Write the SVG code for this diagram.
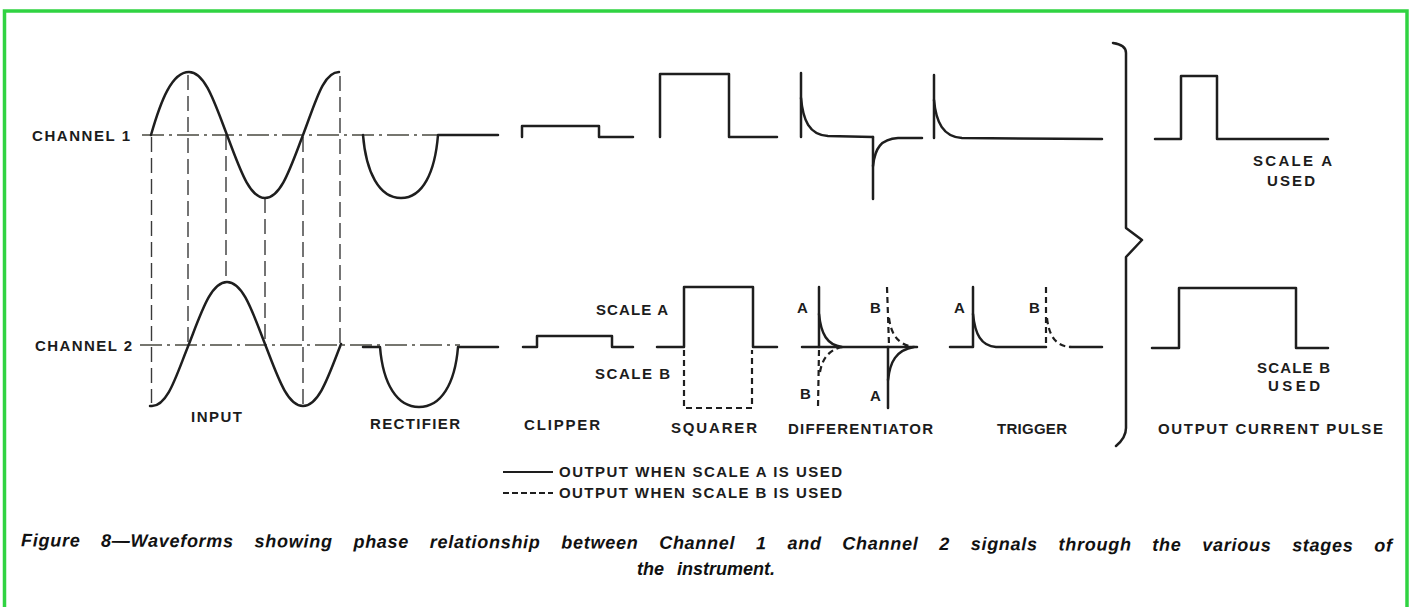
<svg xmlns="http://www.w3.org/2000/svg" width="1415" height="607" viewBox="0 0 1415 607">
  <style>
    .w { fill: none; stroke: #1e1e1e; stroke-width: 2.5; stroke-linejoin: round; stroke-linecap: round; }
    .wd { fill: none; stroke: #1e1e1e; stroke-width: 2.2; stroke-dasharray: 6 4; }
    .ax { fill: none; stroke: #4a4a40; stroke-width: 1.3; stroke-dasharray: 22 5 3 5; }
    .vd { fill: none; stroke: #3a3a3a; stroke-width: 1.4; stroke-dasharray: 15 6; }
    .lb { font-family: "Liberation Sans", Arial, sans-serif; font-weight: bold; font-size: 15px; fill: #1c1c1c; }
    .cap { font-family: "Liberation Sans", Arial, sans-serif; font-weight: bold; font-style: italic; font-size: 18px; fill: #111111; }
  </style>
  <rect x="0" y="0" width="1415" height="607" fill="#ffffff"/>
  <rect x="4.5" y="11" width="1402.5" height="630" fill="none" stroke="#30d342" stroke-width="3.5"/>

  <g id="input">
    <text class="lb" x="32" y="140.5" textLength="98" lengthAdjust="spacing">CHANNEL 1</text>
    <text class="lb" x="35" y="350.5" textLength="97" lengthAdjust="spacing">CHANNEL 2</text>
    <path class="ax" d="M142,135 H440"/>
    <path class="ax" d="M140,345 H460"/>
    <path class="vd" d="M151.5,137 V403"/>
    <path class="vd" d="M188,75 V345"/>
    <path class="vd" d="M226,135 V281"/>
    <path class="vd" d="M265,198 V345"/>
    <path class="vd" d="M303,137 V405"/>
    <path class="vd" d="M340,76 V345"/>
    <path class="w" d="M151,135 C161,100 172,72 189,72 C205,72 214.6,102.7 227,135 C239.4,167.3 249,198 265,198 C281,198 290.6,167.3 303,135 C315.4,102.7 323,72 339,72"/>
    <path class="w" d="M150,406 H152 C168,406 176.6,374.2 189,344 C201.4,312.2 211,282 227,282 C243,282 252.6,312.2 265,344 C277.4,375.8 287,406 303,406 C319,406 328.6,375.8 341,344"/>
    <text class="lb" x="191" y="422" textLength="51" lengthAdjust="spacing">INPUT</text>
  </g>

  <g id="rectifier">
    <path class="w" d="M363,135 C366,172 379,198 401,198 C423,198 435,172 438,135 H498"/>
    <path class="w" d="M363,347 H380 C383,384 397,407 419,407 C441,407 455,384 458,347 H498"/>
    <text class="lb" x="370" y="428.5" textLength="90" lengthAdjust="spacing">RECTIFIER</text>
  </g>

  <g id="clipper">
    <path class="w" d="M522,137 V126 H599 V137 H633"/>
    <path class="w" d="M523,347 H537 V336 H612 V347 H633"/>
    <text class="lb" x="524" y="429.5" textLength="76" lengthAdjust="spacing">CLIPPER</text>
  </g>

  <g id="squarer">
    <path class="w" d="M660,137 V74 H729 V137 H777"/>
    <path class="w" d="M657,347 H684 V287 H753 V347 H777"/>
    <path class="wd" d="M684,350 V408 H752 V350"/>
    <text class="lb" x="596" y="314.5" textLength="72" lengthAdjust="spacing">SCALE A</text>
    <text class="lb" x="595" y="378.5" textLength="75" lengthAdjust="spacing">SCALE B</text>
    <text class="lb" x="671" y="432.5" textLength="86" lengthAdjust="spacing">SQUARER</text>
  </g>

  <g id="differentiator">
    <path class="w" d="M801,73 V137"/>
    <path class="w" d="M801,98 C803,120 809,135 828,136 L873,137"/>
    <path class="w" d="M873,137 V199"/>
    <path class="w" d="M873,166 C875,148 881,139 898,138 L922,138"/>
    <path class="w" d="M802,347 H917"/>
    <path class="w" d="M819,287 V347"/>
    <path class="w" d="M819,314 C821,334 827,345 842,347"/>
    <path class="wd" d="M819,350 L818,407"/>
    <path class="wd" d="M820,372 C822,360 828,350 842,347"/>
    <path class="w" d="M888,347 V408"/>
    <path class="w" d="M888,380 C890,362 896,350 914,347"/>
    <path class="wd" d="M887,287 L889,345"/>
    <path class="wd" d="M889,318 C891,334 898,345 914,347"/>
    <text class="lb" x="797" y="312.5">A</text>
    <text class="lb" x="800" y="398.5">B</text>
    <text class="lb" x="870" y="312.5">B</text>
    <text class="lb" x="870" y="400.5">A</text>
    <text class="lb" x="788" y="433.5" textLength="145" lengthAdjust="spacing">DIFFERENTIATOR</text>
  </g>

  <g id="trigger">
    <path class="w" d="M934,75 V138"/>
    <path class="w" d="M934,100 C936,122 943,137 962,138 L1102,139"/>
    <path class="w" d="M950,347 H973 V287"/>
    <path class="w" d="M973,314 C975,334 981,346 996,347 L1046,347"/>
    <path class="wd" d="M1046,287 V347"/>
    <path class="wd" d="M1047,318 C1049,336 1056,347 1072,347"/>
    <path class="w" d="M1070,347 H1102"/>
    <text class="lb" x="954" y="312.5">A</text>
    <text class="lb" x="1029" y="312.5">B</text>
    <text class="lb" x="997" y="433.5" textLength="70" lengthAdjust="spacing">TRIGGER</text>
  </g>

  <g id="brace">
    <path class="w" d="M1113,43 C1120,44 1126,47 1126,53 V228 L1142,240 L1126,257 V428 C1126,436 1122,441 1116,446"/>
  </g>

  <g id="output">
    <path class="w" d="M1155,139 H1181 V76 H1217 V139 H1328"/>
    <path class="w" d="M1152,348 H1179 V288 H1296 V348 H1328"/>
    <text class="lb" x="1253" y="165.5" textLength="79" lengthAdjust="spacing">SCALE A</text>
    <text class="lb" x="1267" y="185.5" textLength="48" lengthAdjust="spacing">USED</text>
    <text class="lb" x="1257" y="372.5" textLength="73" lengthAdjust="spacing">SCALE B</text>
    <text class="lb" x="1268" y="390.5" textLength="52" lengthAdjust="spacing">USED</text>
    <text class="lb" x="1158" y="433.5" textLength="225" lengthAdjust="spacing">OUTPUT CURRENT PULSE</text>
  </g>

  <g id="legend">
    <path d="M503,472 H553" fill="none" stroke="#1e1e1e" stroke-width="2"/>
    <path d="M503,493 H553" fill="none" stroke="#1e1e1e" stroke-width="2" stroke-dasharray="6 3"/>
    <text class="lb" x="559" y="477" textLength="283" lengthAdjust="spacing">OUTPUT WHEN SCALE A IS USED</text>
    <text class="lb" x="559" y="498" textLength="283" lengthAdjust="spacing">OUTPUT WHEN SCALE B IS USED</text>
  </g>

  <g id="caption">
    <text class="cap" x="21" y="549" word-spacing="15" textLength="1371" lengthAdjust="spacing" transform="rotate(0.22 707 549)">Figure 8—Waveforms showing phase relationship between Channel 1 and Channel 2 signals through the various stages of</text>
    <text class="cap" x="706" y="575" text-anchor="middle" word-spacing="8">the instrument.</text>
  </g>
</svg>
